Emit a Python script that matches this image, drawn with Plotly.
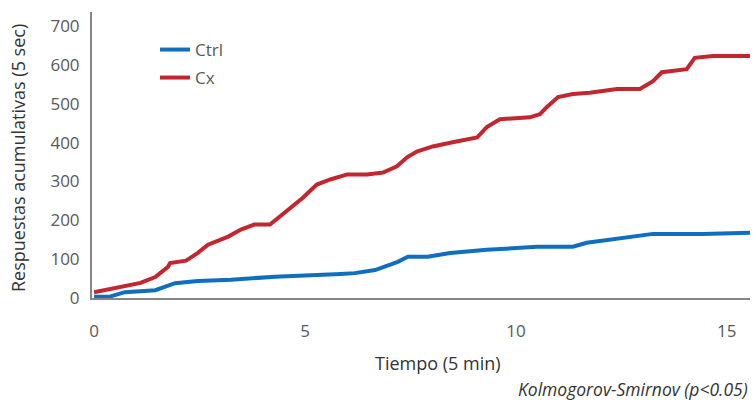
import plotly.graph_objects as go

# Ctrl series (time in 5-min units, cumulative responses)
ctrl_t = [0, 0.35, 0.73, 1.45, 1.92, 2.46, 3.25, 4.29, 5.85, 6.18, 6.66, 7.2, 7.44, 7.91,
          8.44, 9.31, 10.5, 11.35, 11.68, 12.87, 13.25, 14.43, 15.14, 15.55]
ctrl_y = [3, 3, 15, 20, 38, 44, 47, 55, 62, 64, 72, 93, 106, 106,
          116, 124, 132, 132, 142, 160, 165, 165, 168, 168]

# Cx series
cx_t = [0, 0.64, 1.1, 1.45, 1.75, 1.8, 2.18, 2.46, 2.7, 3.18, 3.48, 3.8, 4.17, 4.95, 5.28,
        5.6, 6.0, 6.47, 6.85, 7.18, 7.42, 7.65, 8.03, 8.5, 9.08, 9.31, 9.62, 10.33, 10.57,
        10.73, 11.0, 11.35, 11.75, 12.4, 12.94, 13.25, 13.46, 14.05, 14.24, 14.67, 15.55]
cx_y = [15, 28, 39, 54, 80, 90, 96, 116, 137, 158, 176, 189, 189, 258, 292,
        305, 318, 318, 323, 339, 362, 377, 390, 401, 413, 440, 460, 465, 473,
        491, 517, 525, 528, 538, 538, 558, 581, 589, 618, 623, 623]

x_ticks = [0, 5, 10, 15]
y_ticks = [0, 100, 200, 300, 400, 500, 600, 700]

gray = "#595959"
dark = "#333333"
axis_col = "#868686"
FONT = "Open Sans"

fig = go.Figure()
fig.add_trace(go.Scatter(x=ctrl_t, y=ctrl_y, mode="lines", name="Ctrl",
                         line=dict(color="#0F6EC0", width=4), legend="legend"))
fig.add_trace(go.Scatter(x=cx_t, y=cx_y, mode="lines", name="Cx",
                         line=dict(color="#C3262F", width=4), legend="legend2"))

legend_common = dict(font=dict(family=FONT, size=17, color=gray),
                     bgcolor="rgba(0,0,0,0)", xanchor="left", yanchor="middle",
                     itemwidth=30, x=(155 - 92) / 658)
fig.update_layout(
    width=753, height=403,
    margin=dict(l=92, r=3, t=12, b=105),
    paper_bgcolor="white", plot_bgcolor="white",
    showlegend=True,
    font=dict(family=FONT, size=17, color=gray),
    legend=dict(y=1 - (50 - 12) / 286, **legend_common),
    legend2=dict(y=1 - (78 - 12) / 286, **legend_common),
    xaxis=dict(range=[-0.05, 15.55], tickvals=x_ticks, showgrid=False, zeroline=False,
               showline=True, linecolor=axis_col, linewidth=2, ticks="",
               ticklabelstandoff=17, tickfont=dict(family=FONT, size=17, color=gray)),
    yaxis=dict(range=[0, 736], tickvals=y_ticks, showgrid=False, zeroline=False,
               showline=True, linecolor=axis_col, linewidth=2, ticks="",
               ticklabelstandoff=7, tickfont=dict(family=FONT, size=17, color=gray)),
)

fig.add_annotation(text="Tiempo (5 min)", xref="paper", yref="paper",
                   x=(438 - 92) / 658, y=-(363 - 298) / 286, showarrow=False,
                   font=dict(family=FONT, size=18, color=dark),
                   xanchor="center", yanchor="middle")
fig.add_annotation(text="Respuestas acumulativas (5 sec)", xref="paper", yref="paper",
                   x=-(92 - 18) / 658, y=(298 - 158) / 286, showarrow=False, textangle=-90,
                   font=dict(family=FONT, size=18, color=dark),
                   xanchor="center", yanchor="middle")
fig.add_annotation(text="<i>Kolmogorov-Smirnov (p<0.05)</i>", xref="paper", yref="paper",
                   x=1.0, y=-(389 - 298) / 286, showarrow=False,
                   font=dict(family=FONT, size=17.5, color=dark),
                   xanchor="right", yanchor="middle")

fig.write_html("out.html")
